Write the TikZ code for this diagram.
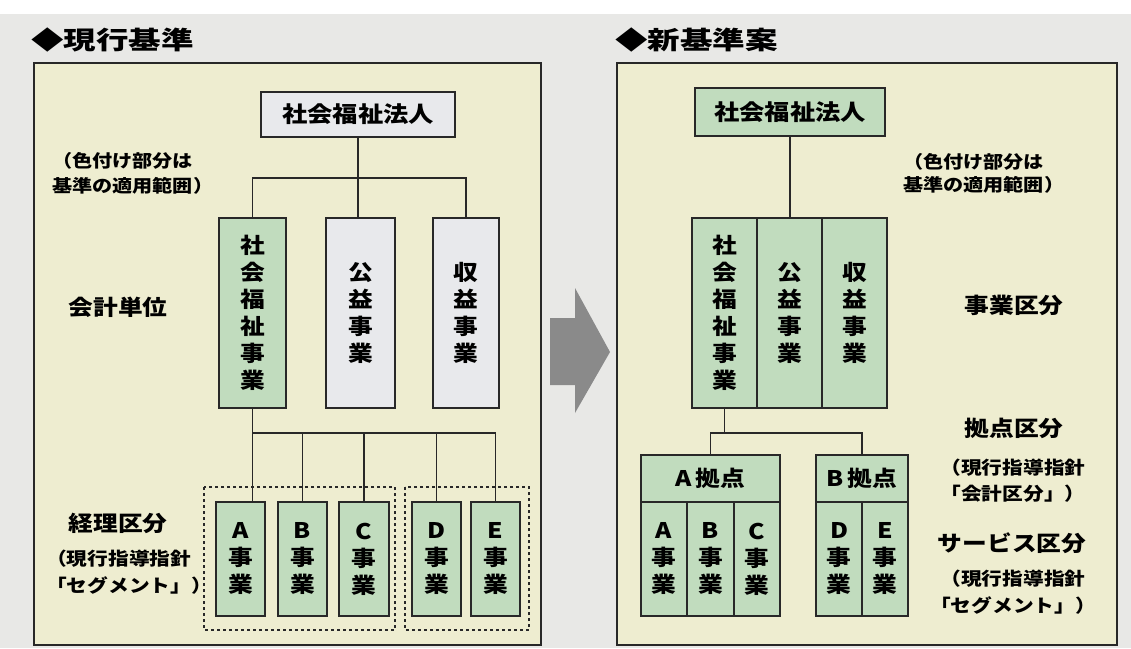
\documentclass[tikz,border=0pt]{standalone}
\usepackage{fontspec}
\newfontfamily\jp[FakeStretch=1.15]{Noto Sans CJK JP}
\newfontfamily\jpt[FakeStretch=1.3]{Noto Sans CJK JP}
\definecolor{paper}{RGB}{232,232,230}
\definecolor{panelc}{RGB}{238,237,208}
\definecolor{greenc}{RGB}{193,220,190}
\definecolor{grayc}{RGB}{232,233,236}
\definecolor{linec}{RGB}{40,40,40}
\definecolor{arrowc}{RGB}{138,138,138}
\tikzset{
  panel/.style={draw=linec, line width=1.9pt, fill=panelc},
  boxbase/.style={draw=linec, line width=1.8pt, inner sep=0pt, align=center,
     font=\jp\bfseries\fontsize{21.5}{27}\selectfont},
  gbox/.style={boxbase, fill=greenc},
  wbox/.style={boxbase, fill=grayc},
  conn/.style={draw=linec, line width=1.7pt},
  grp/.style={draw=linec, line width=2.4pt, dash pattern=on 2.6pt off 3.4pt},
  lab/.style={inner sep=0pt, font=\jp\bfseries\fontsize{21.5}{26}\selectfont},
  note/.style={inner sep=0pt, font=\jp\bfseries\fontsize{17.5}{25}\selectfont},
  ttl/.style={inner sep=0pt, font=\jpt\bfseries\fontsize{25}{30}\selectfont, anchor=west},
}
\begin{document}
\begin{tikzpicture}[x=1pt,y=-1pt]
\useasboundingbox (0,0) rectangle (1131,648);
\fill[paper] (0,0) rectangle (1131,648);
\fill[white] (0,0) rectangle (1131,14);

% ---------- left panel ----------
\node[ttl] (tL) at (31,40) {◆現行基準};
\draw[panel] (34,63) rectangle (541,645);
\node[wbox, minimum width=194pt, minimum height=45pt, font=\jp\bfseries\fontsize{22}{26}\selectfont] (corpL) at (358,114.5) {社会福祉法人};
\node[note, anchor=west, align=left] (annL) at (52,173) {（色付け部分は\\基準の適用範囲）};
\node[gbox, minimum width=67pt, minimum height=190pt] (colL1) at (252.5,313) {社\\会\\福\\祉\\事\\業};
\node[wbox, minimum width=69pt, minimum height=190pt] (colL2) at (360.5,313) {公\\益\\事\\業};
\node[wbox, minimum width=66pt, minimum height=190pt] (colL3) at (466,313) {収\\益\\事\\業};
\node[lab] (kaikei) at (118,307) {会計単位};

\draw[grp] (204,487) rectangle (395,630);
\draw[grp] (405,487) rectangle (529,630);
\node[gbox, minimum width=49pt, minimum height=114pt] (bA) at (240.5,559) {A\\事\\業};
\node[gbox, minimum width=49pt, minimum height=114pt] (bB) at (302.5,559) {B\\事\\業};
\node[gbox, minimum width=50pt, minimum height=114pt] (bC) at (364,559) {C\\事\\業};
\node[gbox, minimum width=49pt, minimum height=114pt] (bD) at (436.5,559) {D\\事\\業};
\node[gbox, minimum width=49pt, minimum height=114pt] (bE) at (495.5,559) {E\\事\\業};
\node[lab] (keiri) at (118,523) {経理区分};
\node[note, anchor=west, align=left, font=\jp\bfseries\fontsize{18}{27}\selectfont] (segL) at (46,572) {（現行指導指針\\「セグメント」）};

\coordinate (h1) at (0,178);
\coordinate (h2) at (0,433);
\draw[conn] (corpL.south) -- (corpL.south |- colL2.north);
\draw[conn] (colL1.north) -- (colL1.north |- h1) -- (colL3.north |- h1) -- (colL3.north);
\draw[conn] (colL1.south) -- (colL1.south |- bA.north);
\draw[conn] (colL1.south |- h2) -- (bE.north |- h2) -- (bE.north);
\draw[conn] (bB.north |- h2) -- (bB.north);
\draw[conn] (bC.north |- h2) -- (bC.north);
\draw[conn] (bD.north |- h2) -- (bD.north);

% ---------- arrow ----------
\fill[arrowc] (550,318) -- (575,318) -- (575,288) -- (610,352) -- (575,413) -- (575,385) -- (550,385) -- cycle;

% ---------- right panel ----------
\node[ttl] (tR) at (615,40) {◆新基準案};
\draw[panel] (617,63) rectangle (1117,645);
\node[gbox, minimum width=190pt, minimum height=48pt, font=\jp\bfseries\fontsize{22}{26}\selectfont] (corpR) at (790,112) {社会福祉法人};
\node[note, anchor=west, align=left, font=\jp\bfseries\fontsize{17.5}{23}\selectfont] (annR) at (903,173.5) {（色付け部分は\\基準の適用範囲）};
\node[gbox, minimum width=65pt, minimum height=190pt] (colR1) at (724.5,313) {社\\会\\福\\祉\\事\\業};
\node[gbox, minimum width=65pt, minimum height=190pt] (colR2) at (789.5,313) {公\\益\\事\\業};
\node[gbox, minimum width=65pt, minimum height=190pt] (colR3) at (854.5,313) {収\\益\\事\\業};
\node[lab] (jigyo) at (1014,305) {事業区分};

\node[gbox, minimum width=139pt, minimum height=47pt] (hA) at (710.5,478.5) {A\,拠点};
\node[gbox, minimum width=46pt, minimum height=114pt] (cA) at (664,559) {A\\事\\業};
\node[gbox, minimum width=47pt, minimum height=114pt] (cB) at (710.5,559) {B\\事\\業};
\node[gbox, minimum width=46pt, minimum height=114pt] (cC) at (757,559) {C\\事\\業};
\node[gbox, minimum width=92pt, minimum height=47pt] (hB) at (862,478.5) {B\,拠点};
\node[gbox, minimum width=46pt, minimum height=114pt] (cD) at (839,559) {D\\事\\業};
\node[gbox, minimum width=46pt, minimum height=114pt] (cE) at (885,559) {E\\事\\業};

\coordinate (h3) at (0,433);
\draw[conn] (corpR.south) -- (corpR.south |- colR2.north);
\draw[conn] (colR1.south) -- (colR1.south |- h3);
\draw[conn] (hA.north) -- (hA.north |- h3) -- (hB.north |- h3) -- (hB.north);

\node[lab] (kyoten) at (1014,428) {拠点区分};
\node[note, align=center, font=\jp\bfseries\fontsize{18}{26}\selectfont] (kaikeiR) at (1013,481) {（現行指導指針\\「会計区分」）};
\node[lab] (service) at (1012,543) {サービス区分};
\node[note, align=center, font=\jp\bfseries\fontsize{18}{27}\selectfont] (segR) at (1013,592) {（現行指導指針\\「セグメント」）};
\end{tikzpicture}
\end{document}
